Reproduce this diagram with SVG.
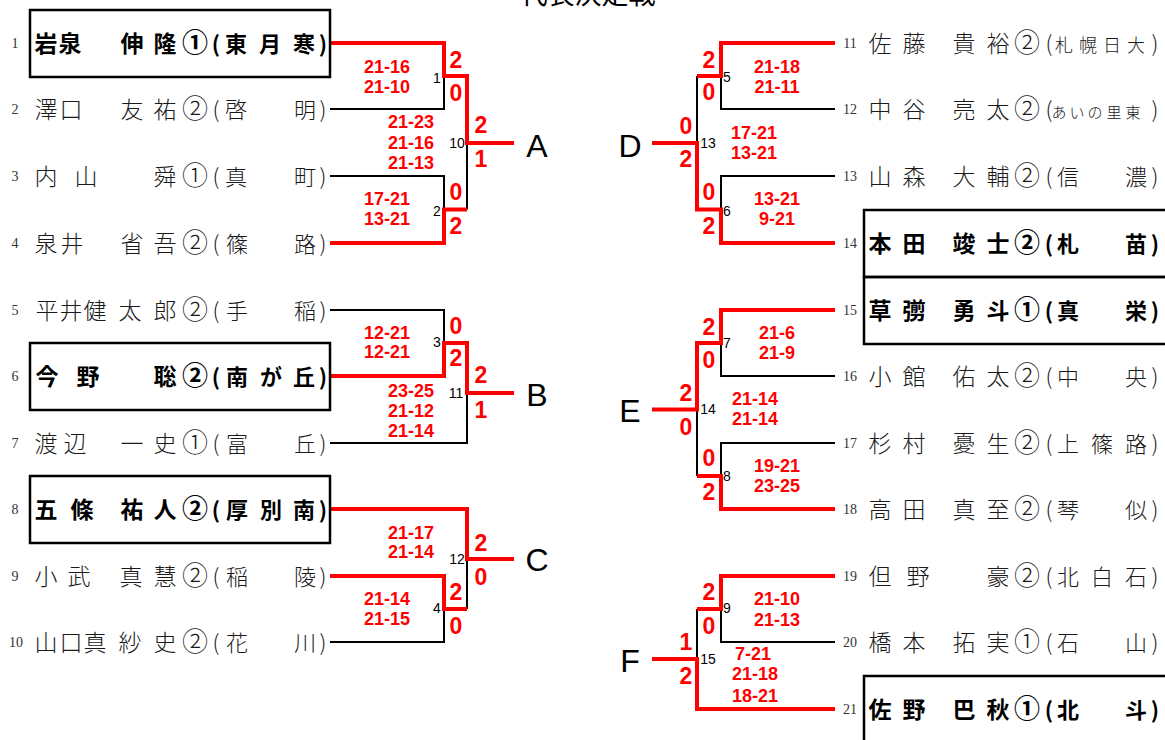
<svg xmlns="http://www.w3.org/2000/svg" width="1165" height="740" viewBox="0 0 1165 740">
<style>
.ln{fill:none;stroke:#000;stroke-width:2}
.rd{fill:none;stroke:#f00;stroke-width:4;stroke-linejoin:miter}
.box{fill:none;stroke:#000;stroke-width:2.5}
.nm{font-family:'Noto Sans CJK JP',sans-serif;font-size:23px;fill:#1a1a1a;text-anchor:middle;font-weight:300}
.b{font-weight:700;fill:#000}
.cc{font-size:26px}
.af{font-size:22px}
.af4{font-size:18px}
.af5{font-size:15px}
.rn{font-family:'Liberation Serif',serif;font-size:14px;fill:#333;text-anchor:middle}
.mn{font-family:'Liberation Sans',sans-serif;font-size:14px;fill:#000;text-anchor:middle}
.sc{font-family:'Liberation Sans',sans-serif;font-weight:700;font-size:18px;fill:#f00;text-anchor:middle}
.st{font-family:'Liberation Sans',sans-serif;font-weight:700;font-size:23px;fill:#f00;text-anchor:middle}
.lt{font-family:'Liberation Sans',sans-serif;font-size:32px;fill:#000;text-anchor:middle}
.tt{font-family:'Noto Sans CJK JP',sans-serif;font-size:27px;fill:#000;text-anchor:middle}
</style>
<text class="tt" x="588" y="4">代表決定戦</text>

<g id="connectors">
<path class="ln" d="M330,109H444V76M467,143V209.5M330,176H444V209.5M330,310H444V343M330,443H467V393M467,559V609M330,642H444V609"/>
<path class="ln" d="M835,109H721V76M697,76V143M835,176H721V209.5M835,376H721V343M697,409.5V476M835,443H721V476M835,642H721V609M697,609V659"/>
<path class="rd" d="M330,43H444V76H467V143H514M330,243H444V209.5H467M330,376H444V343H467V393H514M330,509H467V559H514M330,576H444V609H467"/>
<path class="rd" d="M835,43H721V76H697M835,243H721V209.5H697V143H652M835,310H721V343H697V409.5H652M835,509H721V476H697M835,576H721V609H697M652,659H697V709H835"/>
</g>

<g id="p1"><rect class="box" x="30" y="10" width="300" height="67"/><text class="rn" x="15" y="48">1</text><text class="nm b" y="52"><tspan x="46 70 101 132 165">岩泉　伸隆</tspan><tspan class="cc" x="195">①</tspan><tspan class="af" x="216 236 270 304 323">(東月寒)</tspan></text></g>
<g id="p2"><text class="rn" x="15" y="114">2</text><text class="nm" y="118"><tspan x="46 71 101 132 165">澤口　友祐</tspan><tspan class="cc" x="195">②</tspan><tspan class="af" x="216 236 305 323">(啓明)</tspan></text></g>
<g id="p3"><text class="rn" x="15" y="181">3</text><text class="nm" y="185"><tspan x="46 86 125 165">内山　舜</tspan><tspan class="cc" x="195">①</tspan><tspan class="af" x="216 236 305 323">(真町)</tspan></text></g>
<g id="p4"><text class="rn" x="15" y="248">4</text><text class="nm" y="252"><tspan x="46 72 101 132 165">泉井　省吾</tspan><tspan class="cc" x="195">②</tspan><tspan class="af" x="216 237 305 323">(篠路)</tspan></text></g>
<g id="p5"><text class="rn" x="15" y="315">5</text><text class="nm" y="319"><tspan x="47 71 95 130 165">平井健太郎</tspan><tspan class="cc" x="195">②</tspan><tspan class="af" x="216 237 305 323">(手稲)</tspan></text></g>
<g id="p6"><rect class="box" x="30" y="343" width="300" height="67"/><text class="rn" x="15" y="381">6</text><text class="nm b" y="385"><tspan x="47 88 125 165">今野　聡</tspan><tspan class="cc" x="195">②</tspan><tspan class="af" x="216 237 271 304 323">(南が丘)</tspan></text></g>
<g id="p7"><text class="rn" x="15" y="448">7</text><text class="nm" y="452"><tspan x="46 75 101 132 165">渡辺　一史</tspan><tspan class="cc" x="195">①</tspan><tspan class="af" x="216 237 305 323">(富丘)</tspan></text></g>
<g id="p8"><rect class="box" x="30" y="476" width="300" height="67"/><text class="rn" x="15" y="514">8</text><text class="nm b" y="518"><tspan x="46 82 107 132 165">五條　祐人</tspan><tspan class="cc" x="195">②</tspan><tspan class="af" x="216 237 271 304 323">(厚別南)</tspan></text></g>
<g id="p9"><text class="rn" x="15" y="581">9</text><text class="nm" y="585"><tspan x="46 79 105 131 165">小武　真慧</tspan><tspan class="cc" x="195">②</tspan><tspan class="af" x="216 237 305 323">(稲陵)</tspan></text></g>
<g id="p10"><text class="rn" x="16" y="647">10</text><text class="nm" y="651"><tspan x="46 71 95 130 165">山口真紗史</tspan><tspan class="cc" x="195">②</tspan><tspan class="af" x="216 237 305 323">(花川)</tspan></text></g>

<g id="p11"><text class="rn" x="850" y="48">11</text><text class="nm" y="52"><tspan x="880 914 939 964 998">佐藤　貴裕</tspan><tspan class="cc" x="1027">②</tspan><tspan class="af" x="1049">(</tspan><tspan class="af4" x="1064 1088 1112 1136">札幌日大</tspan><tspan class="af" x="1155">)</tspan></text></g>
<g id="p12"><text class="rn" x="850" y="114">12</text><text class="nm" y="118"><tspan x="880 914 939 964 998">中谷　亮太</tspan><tspan class="cc" x="1027">②</tspan><tspan class="af" x="1049">(</tspan><tspan class="af5" x="1059 1077 1095 1114 1133">あいの里東</tspan><tspan class="af" x="1155">)</tspan></text></g>
<g id="p13"><text class="rn" x="850" y="181">13</text><text class="nm" y="185"><tspan x="880 914 939 964 998">山森　大輔</tspan><tspan class="cc" x="1027">②</tspan><tspan class="af" x="1049 1068 1136 1155">(信濃)</tspan></text></g>
<g id="p14"><rect class="box" x="864" y="210" width="310" height="67"/><text class="rn" x="850" y="248">14</text><text class="nm b" y="252"><tspan x="880 914 939 964 998">本田　竣士</tspan><tspan class="cc" x="1027">②</tspan><tspan class="af" x="1049 1068 1136 1155">(札苗)</tspan></text></g>
<g id="p15"><rect class="box" x="864" y="277" width="310" height="67"/><text class="rn" x="850" y="315">15</text><text class="nm b" y="319"><tspan x="880 914 939 964 998">草彅　勇斗</tspan><tspan class="cc" x="1027">①</tspan><tspan class="af" x="1049 1068 1136 1155">(真栄)</tspan></text></g>
<g id="p16"><text class="rn" x="850" y="381">16</text><text class="nm" y="385"><tspan x="880 914 939 964 998">小館　佑太</tspan><tspan class="cc" x="1027">②</tspan><tspan class="af" x="1049 1068 1136 1155">(中央)</tspan></text></g>
<g id="p17"><text class="rn" x="850" y="448">17</text><text class="nm" y="452"><tspan x="880 914 939 964 998">杉村　憂生</tspan><tspan class="cc" x="1027">②</tspan><tspan class="af" x="1049 1068 1102 1136 1155">(上篠路)</tspan></text></g>
<g id="p18"><text class="rn" x="850" y="514">18</text><text class="nm" y="518"><tspan x="880 914 939 964 998">高田　真至</tspan><tspan class="cc" x="1027">②</tspan><tspan class="af" x="1049 1068 1136 1155">(琴似)</tspan></text></g>
<g id="p19"><text class="rn" x="850" y="581">19</text><text class="nm" y="585"><tspan x="880 918 958 998">但野　豪</tspan><tspan class="cc" x="1027">②</tspan><tspan class="af" x="1049 1068 1102 1136 1155">(北白石)</tspan></text></g>
<g id="p20"><text class="rn" x="850" y="647">20</text><text class="nm" y="651"><tspan x="880 914 939 964 998">橋本　拓実</tspan><tspan class="cc" x="1027">①</tspan><tspan class="af" x="1049 1068 1136 1155">(石山)</tspan></text></g>
<g id="p21"><rect class="box" x="864" y="676" width="310" height="67"/><text class="rn" x="850" y="714">21</text><text class="nm b" y="718"><tspan x="880 914 939 964 998">佐野　巴秋</tspan><tspan class="cc" x="1027">①</tspan><tspan class="af" x="1049 1068 1136 1155">(北斗)</tspan></text></g>

<g id="m1"><text class="mn" x="437" y="83">1</text><text class="st" x="456" y="68">2</text><text class="st" x="456" y="101">0</text><text class="sc" x="387" y="73.4">21-16</text><text class="sc" x="387" y="93.4">21-10</text></g>
<g id="m2"><text class="mn" x="437" y="216">2</text><text class="st" x="456" y="200">0</text><text class="st" x="456" y="234">2</text><text class="sc" x="387" y="205.4">17-21</text><text class="sc" x="387" y="225.4">13-21</text></g>
<g id="m10"><text class="mn" x="457" y="148">10</text><text class="st" x="481" y="133">2</text><text class="st" x="481" y="167">1</text><text class="sc" x="411" y="128.4">21-23</text><text class="sc" x="411" y="149.4">21-16</text><text class="sc" x="411" y="169.4">21-13</text></g>
<g id="m3"><text class="mn" x="437" y="347">3</text><text class="st" x="456" y="334">0</text><text class="st" x="456" y="366">2</text><text class="sc" x="387" y="339.4">12-21</text><text class="sc" x="387" y="358.4">12-21</text></g>
<g id="m11"><text class="mn" x="456" y="398">11</text><text class="st" x="481" y="383">2</text><text class="st" x="481" y="418">1</text><text class="sc" x="411" y="397.4">23-25</text><text class="sc" x="411" y="417.4">21-12</text><text class="sc" x="411" y="437.4">21-14</text></g>
<g id="m12"><text class="mn" x="457" y="564">12</text><text class="st" x="481" y="551">2</text><text class="st" x="481" y="585">0</text><text class="sc" x="411" y="539.4">21-17</text><text class="sc" x="411" y="558.4">21-14</text></g>
<g id="m4"><text class="mn" x="437" y="613">4</text><text class="st" x="456" y="600">2</text><text class="st" x="456" y="634">0</text><text class="sc" x="387" y="605.4">21-14</text><text class="sc" x="387" y="625.4">21-15</text></g>

<g id="m5"><text class="mn" x="727" y="82">5</text><text class="st" x="709" y="68">2</text><text class="st" x="709" y="100">0</text><text class="sc" x="777" y="73.4">21-18</text><text class="sc" x="777" y="93.4">21-11</text></g>
<g id="m13"><text class="mn" x="708" y="148">13</text><text class="st" x="686" y="134">0</text><text class="st" x="686" y="167">2</text><text class="sc" x="754" y="139.4">17-21</text><text class="sc" x="754" y="159.4">13-21</text></g>
<g id="m6"><text class="mn" x="727" y="216">6</text><text class="st" x="709" y="200">0</text><text class="st" x="709" y="234">2</text><text class="sc" x="777" y="205.4">13-21</text><text class="sc" x="777" y="225.4">9-21</text></g>
<g id="m7"><text class="mn" x="727" y="348">7</text><text class="st" x="709" y="335">2</text><text class="st" x="709" y="368">0</text><text class="sc" x="777" y="339.4">21-6</text><text class="sc" x="777" y="359.4">21-9</text></g>
<g id="m14"><text class="mn" x="708" y="414">14</text><text class="st" x="686" y="401">2</text><text class="st" x="686" y="435">0</text><text class="sc" x="755" y="405.4">21-14</text><text class="sc" x="755" y="425.4">21-14</text></g>
<g id="m8"><text class="mn" x="727" y="481">8</text><text class="st" x="709" y="466">0</text><text class="st" x="709" y="500">2</text><text class="sc" x="777" y="472.4">19-21</text><text class="sc" x="777" y="492.4">23-25</text></g>
<g id="m9"><text class="mn" x="727" y="613">9</text><text class="st" x="709" y="600">2</text><text class="st" x="709" y="634">0</text><text class="sc" x="777" y="605.4">21-10</text><text class="sc" x="777" y="626.4">21-13</text></g>
<g id="m15"><text class="mn" x="708" y="664">15</text><text class="st" x="686" y="650">1</text><text class="st" x="686" y="684">2</text><text class="sc" x="753" y="660.4">7-21</text><text class="sc" x="755" y="680.4">21-18</text><text class="sc" x="755" y="702.4">18-21</text></g>

<g id="labels"><text class="lt" x="537" y="156.5">A</text><text class="lt" x="537" y="406">B</text><text class="lt" x="537" y="570.5">C</text><text class="lt" x="630" y="156.5">D</text><text class="lt" x="630" y="421.5">E</text><text class="lt" x="630" y="671.5">F</text></g>
</svg>
